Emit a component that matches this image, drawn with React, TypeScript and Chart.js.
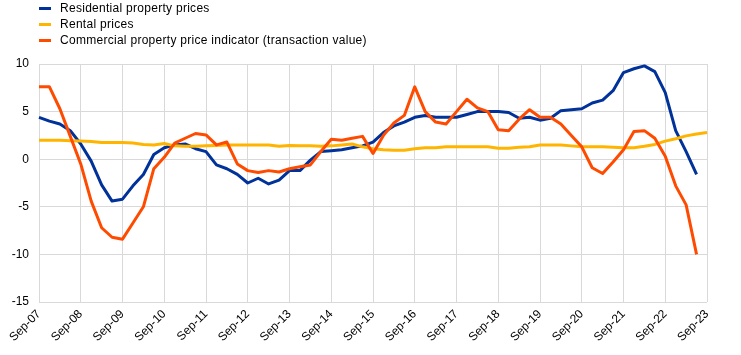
import React, { useEffect, useRef } from 'react';
import { Chart, registerables } from 'chart.js';

Chart.register(...registerables);

const quarters = [
  'Sep-07', 'Dec-07',
  'Mar-08', 'Jun-08', 'Sep-08', 'Dec-08',
  'Mar-09', 'Jun-09', 'Sep-09', 'Dec-09',
  'Mar-10', 'Jun-10', 'Sep-10', 'Dec-10',
  'Mar-11', 'Jun-11', 'Sep-11', 'Dec-11',
  'Mar-12', 'Jun-12', 'Sep-12', 'Dec-12',
  'Mar-13', 'Jun-13', 'Sep-13', 'Dec-13',
  'Mar-14', 'Jun-14', 'Sep-14', 'Dec-14',
  'Mar-15', 'Jun-15', 'Sep-15', 'Dec-15',
  'Mar-16', 'Jun-16', 'Sep-16', 'Dec-16',
  'Mar-17', 'Jun-17', 'Sep-17', 'Dec-17',
  'Mar-18', 'Jun-18', 'Sep-18', 'Dec-18',
  'Mar-19', 'Jun-19', 'Sep-19', 'Dec-19',
  'Mar-20', 'Jun-20', 'Sep-20', 'Dec-20',
  'Mar-21', 'Jun-21', 'Sep-21', 'Dec-21',
  'Mar-22', 'Jun-22', 'Sep-22', 'Dec-22',
  'Mar-23', 'Jun-23', 'Sep-23',
];

const residential = [
  4.4, 4.0,
  3.7, 3.0, 1.6, -0.2,
  -2.7, -4.4, -4.2, -2.8,
  -1.6, 0.5, 1.2, 1.5,
  1.6, 1.1, 0.8, -0.6,
  -1.0, -1.6, -2.5, -2.0,
  -2.6, -2.2, -1.2, -1.2,
  -0.1, 0.8, 0.9, 1.0,
  1.2, 1.4, 1.8, 2.8,
  3.5, 3.9, 4.4, 4.6,
  4.4, 4.4, 4.4, 4.7,
  5.0, 5.0, 5.0, 4.9,
  4.3, 4.4, 4.1, 4.3,
  5.1, 5.2, 5.3, 5.9,
  6.2, 7.2, 9.1, 9.5,
  9.8, 9.2, 7.0, 3.0,
  0.8, -1.6, null,
];

const rental = [
  2.0, 2.0,
  2.0, 1.95, 1.9, 1.85,
  1.75, 1.75, 1.75, 1.7,
  1.55, 1.5, 1.65, 1.4,
  1.35, 1.35, 1.4, 1.45,
  1.5, 1.5, 1.5, 1.5,
  1.5, 1.35, 1.45, 1.4,
  1.4, 1.35, 1.4, 1.5,
  1.6, 1.3, 1.1, 1.0,
  0.95, 0.95, 1.1, 1.2,
  1.2, 1.3, 1.3, 1.3,
  1.3, 1.3, 1.15, 1.15,
  1.25, 1.3, 1.5, 1.5,
  1.5, 1.4, 1.3, 1.3,
  1.3, 1.25, 1.2, 1.2,
  1.35, 1.55, 1.9, 2.15,
  2.45, 2.65, 2.8,
];

const commercial = [
  7.6, 7.6,
  5.3, 2.4, -0.5, -4.4,
  -7.2, -8.2, -8.4, -6.7,
  -5.0, -1.0, 0.2, 1.7,
  2.2, 2.7, 2.55, 1.5,
  1.8, -0.5, -1.2, -1.4,
  -1.2, -1.35, -1.0, -0.8,
  -0.6, 0.8, 2.1, 2.0,
  2.2, 2.4, 0.6, 2.5,
  3.8, 4.6, 7.6, 5.0,
  3.9, 3.7, 5.0, 6.3,
  5.4, 5.0, 3.1, 3.0,
  4.2, 5.2, 4.4, 4.4,
  3.7, 2.5, 1.3, -0.9,
  -1.5, -0.3, 1.0, 2.9,
  3.0, 2.2, 0.3, -2.8,
  -4.8, -10.0, null,
];

const seriesNames = [
  'Residential property prices',
  'Rental prices',
  'Commercial property price indicator (transaction value)',
];
const seriesColors = ['#003299', '#ffb400', '#ff4b00'];

const yMin = -15;
const yMax = 10;
const yStep = 5;

const FONT = "'Liberation Sans', Arial, sans-serif";

export default function App() {
  const ref = useRef<HTMLCanvasElement>(null);

  useEffect(() => {
    const tickFont = { family: FONT, size: 12 };
    const chart = new Chart(ref.current as HTMLCanvasElement, {
      type: 'line',
      data: {
        labels: quarters,
        datasets: [
          { label: seriesNames[0], data: residential, borderColor: seriesColors[0], backgroundColor: seriesColors[0], order: 2 },
          { label: seriesNames[1], data: rental, borderColor: seriesColors[1], backgroundColor: seriesColors[1], order: 1 },
          { label: seriesNames[2], data: commercial, borderColor: seriesColors[2], backgroundColor: seriesColors[2], order: 0 },
        ],
      },
      options: {
        animation: false,
        responsive: false,
        maintainAspectRatio: false,
        layout: { padding: { top: 64, right: 34, left: 0, bottom: 0 } },
        plugins: { legend: { display: false }, tooltip: { enabled: false } },
        elements: {
          point: { radius: 0, hoverRadius: 0 },
          line: { borderWidth: 3, tension: 0, borderJoinStyle: 'round', borderCapStyle: 'butt' },
        },
        scales: {
          x: {
            grid: { color: '#d9d9d9', lineWidth: 1, drawTicks: false },
            border: { display: false },
            ticks: {
              autoSkip: false,
              minRotation: 45,
              maxRotation: 45,
              padding: 5,
              color: '#000',
              font: tickFont,
              callback: function (this: any, value: any) {
                const l = this.getLabelForValue(value);
                return l.startsWith('Sep') ? l : null;
              },
            },
            afterFit: (s: any) => { s.height = 53; },
          },
          y: {
            min: yMin,
            max: yMax,
            grid: { color: '#d9d9d9', lineWidth: 1, drawTicks: false },
            border: { display: false },
            ticks: { stepSize: yStep, padding: 10, color: '#000', font: tickFont },
            afterFit: (s: any) => { s.width = 39; },
          },
        },
      },
    });
    return () => chart.destroy();
  }, []);

  return (
    <div style={{ position: 'fixed', left: 0, top: 0, width: 741, height: 355, background: '#fff', overflow: 'hidden' }}>
      <canvas ref={ref} width={741} height={355} style={{ display: 'block', width: 741, height: 355 }} />
      {seriesNames.map((name, i) => (
        <div key={name} style={{ position: 'absolute', left: 0, top: i * 16, height: 16, width: 500 }}>
          <div style={{ position: 'absolute', left: 39, top: 6.5, width: 12, height: 3, background: seriesColors[i] }} />
          <div style={{ position: 'absolute', left: 60, top: 0, lineHeight: '16px', fontFamily: FONT, fontSize: 12, letterSpacing: '0.28px', color: '#000', whiteSpace: 'nowrap' }}>{name}</div>
        </div>
      ))}
    </div>
  );
}
